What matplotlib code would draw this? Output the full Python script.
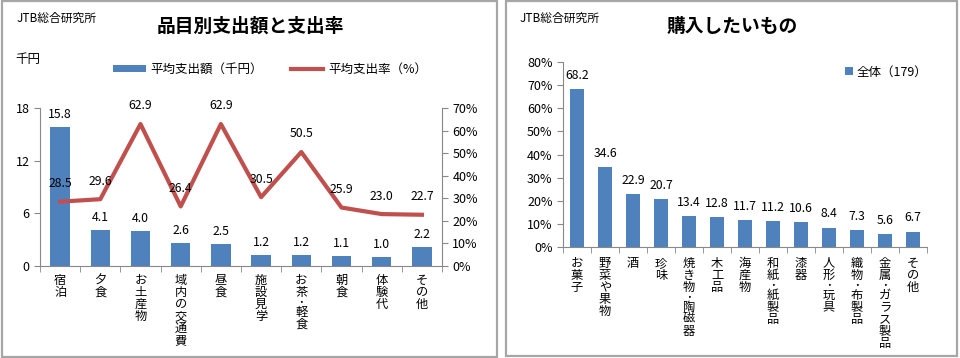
import matplotlib
matplotlib.use("Agg")
import matplotlib.pyplot as plt
from matplotlib.patches import Rectangle, Patch
from matplotlib.lines import Line2D
import numpy as np

plt.rcParams['font.family'] = ['Noto Sans CJK JP', 'DejaVu Sans']

# ---- data: left chart ----
left_categories = ['宿泊', '夕食', 'お土産物', '域内の交通費', '昼食', '施設見学', 'お茶・軽食', '朝食', '体験代', 'その他']
avg_spend = [15.8, 4.1, 4.0, 2.6, 2.5, 1.2, 1.2, 1.1, 1.0, 2.2]
spend_rate = [28.5, 29.6, 62.9, 26.4, 62.9, 30.5, 50.5, 25.9, 23.0, 22.7]
left_yticks = [0, 6, 12, 18]
right_yticks_left = [0, 10, 20, 30, 40, 50, 60, 70]

# ---- data: right chart ----
right_categories = ['お菓子', '野菜や果物', '酒', '珍味', '焼き物・陶磁器', '木工品', '海産物', '和紙・紙製品', '漆器', '人形・玩具', '織物・布製品', '金属・ガラス製品', 'その他']
want_pct = [68.2, 34.6, 22.9, 20.7, 13.4, 12.8, 11.7, 11.2, 10.6, 8.4, 7.3, 5.6, 6.7]
right_yticks = [0, 10, 20, 30, 40, 50, 60, 70, 80]

BLUE = '#4F81BD'
RED = '#C0504D'
SPINE = '#888888'

W, H = 960, 358
fig = plt.figure(figsize=(W / 100, H / 100), dpi=100)

def px_axes(x0, y0, x1, y1):
    return fig.add_axes([x0 / W, 1 - y1 / H, (x1 - x0) / W, (y1 - y0) / H])

# panel borders
for (x0, y0, x1, y1) in [(2, 1, 497, 357), (506, 1, 957, 356)]:
    fig.patches.append(Rectangle((x0 / W, 1 - y1 / H), (x1 - x0) / W, (y1 - y0) / H,
                                 transform=fig.transFigure, fill=False,
                                 edgecolor='#A6A6A6', linewidth=1.6))

def style_axis(ax, n):
    for s in ['top', 'right']:
        ax.spines[s].set_visible(False)
    for s in ['left', 'bottom']:
        ax.spines[s].set_color(SPINE)
    ax.set_xlim(-0.5, n - 0.5)
    ax.set_xticks(np.arange(n))
    ax.set_xticklabels([''] * n)
    ax.set_xticks(np.arange(n + 1) - 0.5, minor=True)
    ax.tick_params(axis='x', which='major', length=0)
    ax.tick_params(axis='x', which='minor', length=4, color=SPINE, direction='out')
    ax.tick_params(axis='y', length=4, color=SPINE, direction='out', labelsize=9)

def vertical_labels(ax, cats, size=8.8, pitch=8.7, top=5.0):
    for i, lab in enumerate(cats):
        y = -top
        for ch in lab:
            if ch == '・':
                ax.annotate(ch, xy=(i, 0), xycoords=('data', 'axes fraction'),
                            xytext=(0, y), textcoords='offset points',
                            ha='center', va='top', fontsize=5.6, fontweight='bold',
                            annotation_clip=False)
                y -= 5.6
            else:
                ax.annotate(ch, xy=(i, 0), xycoords=('data', 'axes fraction'),
                            xytext=(0, y), textcoords='offset points',
                            ha='center', va='top', fontsize=size, annotation_clip=False)
                y -= pitch

# ---- left chart ----
ax = px_axes(40, 108, 442, 266)
x = np.arange(len(left_categories))
ax.bar(x, avg_spend, width=0.48, color=BLUE, zorder=2)
ax.set_ylim(0, 18)
ax.set_yticks(left_yticks)
style_axis(ax, len(left_categories))
vertical_labels(ax, left_categories, top=5.5)
for xi, v in zip(x, avg_spend):
    ax.annotate(f'{v:.1f}', (xi, v), xytext=(0, 9), textcoords='offset points',
                ha='center', va='center', fontsize=8.8)

ax2 = ax.twinx()
ax2.plot(x, spend_rate, color=RED, linewidth=3, zorder=3)
ax2.set_ylim(0, 70)
ax2.set_yticks(right_yticks_left)
ax2.set_yticklabels([f'{t}%' for t in right_yticks_left])
for s in ['top', 'left', 'bottom']:
    ax2.spines[s].set_visible(False)
ax2.spines['right'].set_color(SPINE)
ax2.tick_params(axis='y', length=4, color=SPINE, direction='out', labelsize=9)
for xi, v in zip(x, spend_rate):
    ax2.annotate(f'{v:.1f}', (xi, v), xytext=(0, 13), textcoords='offset points',
                 ha='center', va='center', fontsize=8.8)

fig.text(17 / W, 1 - 18 / H, 'JTB総合研究所', fontsize=8.5, ha='left', va='center')
fig.text(250 / W, 1 - 26 / H, '品目別支出額と支出率', fontsize=13.5, fontweight='bold', ha='center', va='center')
fig.text(15 / W, 1 - 60 / H, '千円', fontsize=9, ha='left', va='center')
fig.legend(handles=[Patch(facecolor=BLUE, label='平均支出額（千円）'),
                    Line2D([0], [0], color=RED, linewidth=3, label='平均支出率（%）')],
           loc='center', bbox_to_anchor=(270 / W, 1 - 69 / H), ncol=2, frameon=False,
           fontsize=9, handlelength=2.6, handleheight=0.5, columnspacing=2.2, handletextpad=0.4)

# ---- right chart ----
axr = px_axes(563, 62, 927, 247)
xr = np.arange(len(right_categories))
axr.bar(xr, want_pct, width=0.48, color=BLUE, zorder=2, label='全体（179）')
axr.set_ylim(0, 80)
axr.set_yticks(right_yticks)
axr.set_yticklabels([f'{t}%' for t in right_yticks])
style_axis(axr, len(right_categories))
vertical_labels(axr, right_categories, top=7.0)
for xi, v in zip(xr, want_pct):
    axr.annotate(f'{v:.1f}', (xi, v), xytext=(0, 10), textcoords='offset points',
                 ha='center', va='center', fontsize=8.8)

fig.text(520 / W, 1 - 18 / H, 'JTB総合研究所', fontsize=8.5, ha='left', va='center')
fig.text(732 / W, 1 - 26 / H, '購入したいもの', fontsize=13.5, fontweight='bold', ha='center', va='center')
fig.legend(handles=[Patch(facecolor=BLUE, label='全体（179）')],
           loc='center', bbox_to_anchor=(886 / W, 1 - 72 / H), frameon=False,
           fontsize=9, handlelength=0.6, handleheight=0.6, handletextpad=0.3)

fig.savefig('out.png', dpi=100)
